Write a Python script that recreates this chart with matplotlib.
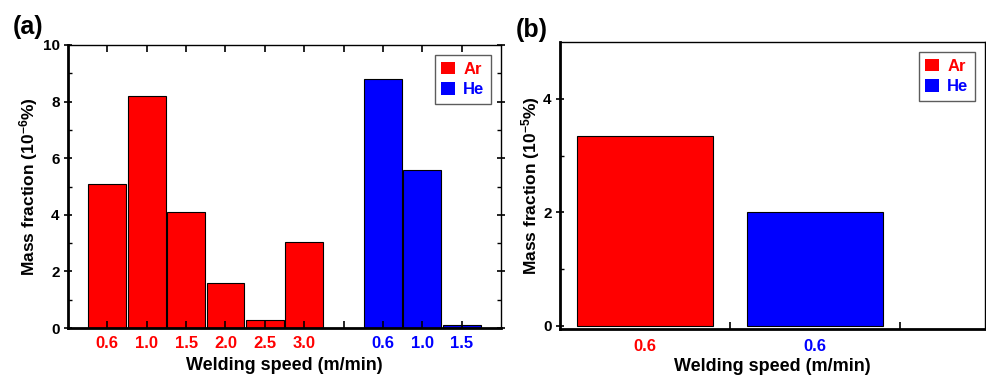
import matplotlib
matplotlib.use('Agg')
import matplotlib.pyplot as plt
from matplotlib.patches import Patch
from matplotlib.ticker import FixedLocator, MultipleLocator

plt.rcParams['font.family'] = ['Liberation Sans', 'DejaVu Sans']
plt.rcParams['font.weight'] = 'bold'
plt.rcParams['mathtext.fontset'] = 'custom'
plt.rcParams['mathtext.rm'] = 'Liberation Sans:bold'
plt.rcParams['mathtext.it'] = 'Liberation Sans:bold'
plt.rcParams['mathtext.bf'] = 'Liberation Sans:bold'

RED = '#ff0000'
BLUE = '#0000ff'

# (a) mass fraction vs welding speed, Ar and He shielding gas
ar_speeds = ['0.6', '1.0', '1.5', '2.0', '2.5', '3.0']
ar_values = [5.1, 8.2, 4.1, 1.6, 0.3, 3.05]
he_speeds = ['0.6', '1.0', '1.5']
he_values = [8.8, 5.6, 0.1]

# (b) single speed comparison
b_labels = ['0.6', '0.6']
b_values = [3.35, 2.0]

fig = plt.figure(figsize=(9.87, 3.76), dpi=100)
ax1 = fig.add_axes([68 / 987, 48 / 376, 433 / 987, 283 / 376])
ax2 = fig.add_axes([560 / 987, 47 / 376, 425 / 987, 287 / 376])

# ---- panel (a)
ar_pos = list(range(1, len(ar_values) + 1))
he_pos = [len(ar_values) + 2 + i for i in range(len(he_values))]
ax1.bar(ar_pos, ar_values, width=0.96, color=RED, edgecolor='black', linewidth=0.8)
ax1.bar(he_pos, he_values, width=0.96, color=BLUE, edgecolor='black', linewidth=0.8)
ax1.set_xlim(0, 11)
ax1.set_ylim(0, 10)
ax1.set_xticks(ar_pos + [len(ar_values) + 1] + he_pos)
ax1.set_xticklabels(ar_speeds + [''] + he_speeds, fontsize=12, fontweight='bold')
for lbl, c in zip(ax1.get_xticklabels(), [RED] * 6 + ['k'] + [BLUE] * 3):
    lbl.set_color(c)
ax1.yaxis.set_major_locator(MultipleLocator(2))
ax1.yaxis.set_minor_locator(MultipleLocator(1))
ax1.tick_params(axis='x', direction='in', length=5, width=1.2, top=True, pad=6)
ax1.tick_params(axis='y', which='major', direction='inout', length=6, width=1.2,
                right=True, labelsize=11, pad=3)
ax1.tick_params(axis='y', which='minor', direction='in', length=3, width=1.0, right=True)
ax1.set_ylabel(r'Mass fraction (10$^{-6}$%)', fontsize=12.5, fontweight='bold', labelpad=2)
ax1.set_xlabel('Welding speed (m/min)', fontsize=13, fontweight='bold', labelpad=4)
ax1.text(-0.128, 1.02, '(a)', transform=ax1.transAxes, fontsize=18, fontweight='bold',
         ha='left', va='bottom')

# ---- panel (b)
b_pos = [0.5, 1.5]
ax2.bar(b_pos, b_values, width=0.8, color=[RED, BLUE], edgecolor='black', linewidth=0.8)
ax2.set_xlim(0, 2.5)
ax2.set_ylim(-0.053, 5.0)
ax2.set_xticks(b_pos)
ax2.set_xticklabels(b_labels, fontsize=12, fontweight='bold')
for lbl, c in zip(ax2.get_xticklabels(), [RED, BLUE]):
    lbl.set_color(c)
ax2.xaxis.set_minor_locator(FixedLocator([1, 2]))
ax2.tick_params(axis='x', which='major', length=0, pad=7)
ax2.tick_params(axis='x', which='minor', direction='in', length=5, width=1.2)
ax2.yaxis.set_major_locator(FixedLocator([0, 2, 4]))
ax2.yaxis.set_minor_locator(FixedLocator([1, 3]))
ax2.tick_params(axis='y', which='major', direction='inout', length=6, width=1.2,
                labelsize=11, pad=3)
ax2.tick_params(axis='y', which='minor', direction='in', length=3, width=1.0)
ax2.set_ylabel(r'Mass fraction (10$^{-5}$%)', fontsize=12.5, fontweight='bold', labelpad=1)
ax2.set_xlabel('Welding speed (m/min)', fontsize=13, fontweight='bold', labelpad=3)
ax2.text(-0.105, 1.0, '(b)', transform=ax2.transAxes, fontsize=18, fontweight='bold',
         ha='left', va='bottom')

for ax in (ax1, ax2):
    ax.spines['left'].set_linewidth(2.0)
    ax.spines['bottom'].set_linewidth(2.0)
    ax.spines['top'].set_linewidth(1.0)
    ax.spines['right'].set_linewidth(1.0)
    handles = [Patch(facecolor=RED, label='Ar'), Patch(facecolor=BLUE, label='He')]
    leg = ax.legend(handles=handles, loc='upper right', fontsize=12, frameon=True,
                    fancybox=False, edgecolor='#333333', handlelength=0.8,
                    handleheight=0.8, handletextpad=0.5, borderpad=0.4,
                    labelspacing=0.3, borderaxespad=0.6)
    leg.get_frame().set_linewidth(1.0)
    for txt, c in zip(leg.get_texts(), [RED, BLUE]):
        txt.set_color(c)
        txt.set_fontweight('bold')

fig.savefig('out.png', dpi=100)
